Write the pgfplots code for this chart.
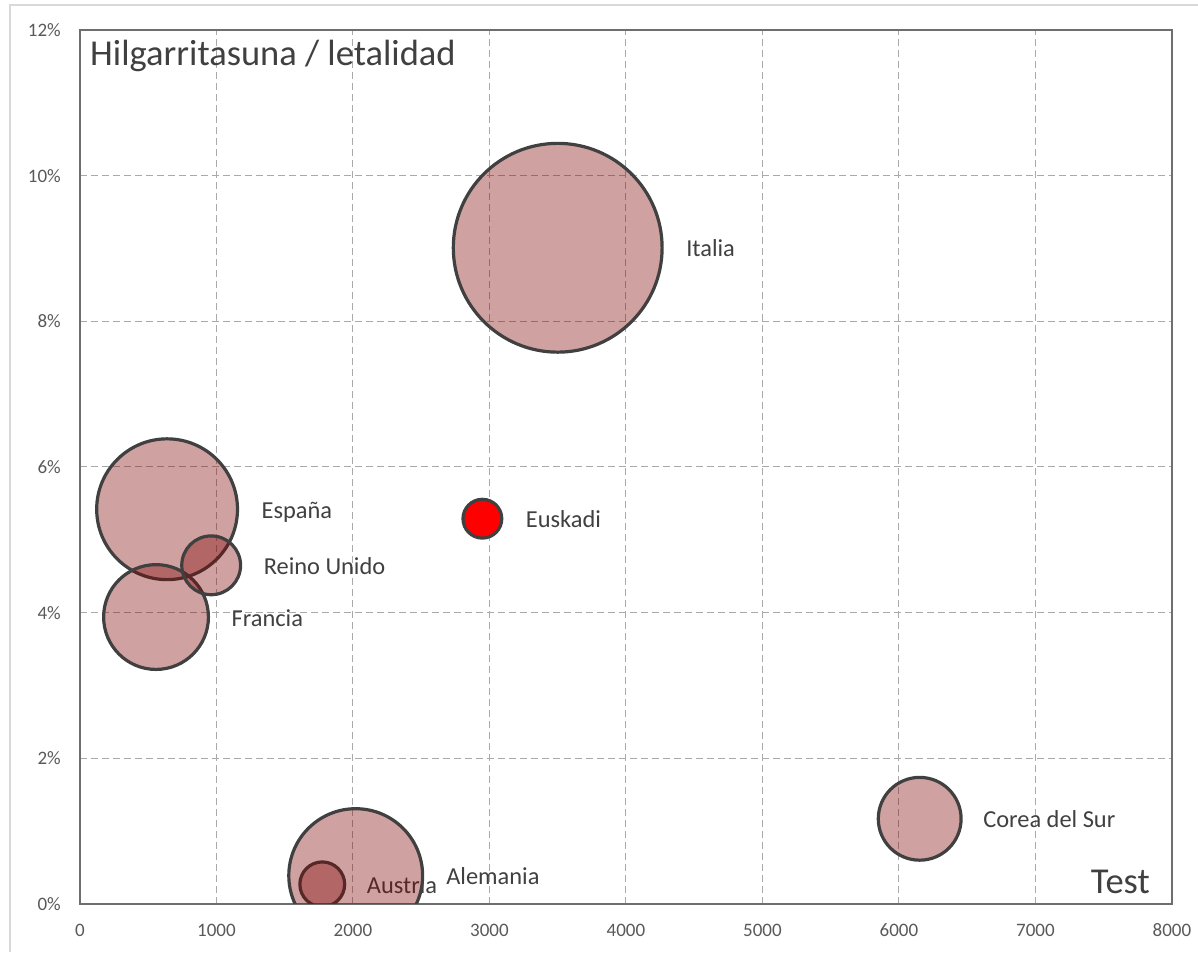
\documentclass[border=0pt]{standalone}
\usepackage{pgfplots}
\pgfplotsset{compat=1.18}
\usepackage{fontspec}
\setmainfont{Carlito}
\definecolor{bub}{RGB}{128,0,0}
\definecolor{edge}{RGB}{64,64,64}
\definecolor{axisgray}{RGB}{110,110,110}
\definecolor{tickgray}{RGB}{89,89,89}
\definecolor{gridgray}{RGB}{170,170,170}
\definecolor{framegray}{RGB}{217,217,217}
\definecolor{textgray}{RGB}{64,64,64}
\pgfplotsset{
  bubble/.style={only marks, mark=*, mark options={fill=bub, fill opacity=0.37, draw=edge, draw opacity=1, line width=3.2pt},
    nodes near coords style={anchor=base west, inner sep=0pt, text=textgray, text opacity=1, fill opacity=1, font=\fontsize{24.4}{28}\selectfont, yshift=-9pt}},
}
\begin{document}
\begin{tikzpicture}
\useasboundingbox (0,0) rectangle (1198pt,952pt);
\draw[framegray, line width=2pt] (10pt,0pt) -- (10pt,947pt) -- (1198pt,947pt);
\begin{axis}[
  at={(80pt,48pt)}, anchor=south west,
  scale only axis, width=1092pt, height=874pt,
  xmin=0, xmax=8000, ymin=0, ymax=12,
  xtick={0,1000,...,8000}, ytick={0,2,...,12},
  scaled x ticks=false, scaled y ticks=false,
  /pgf/number format/assume math mode=true,
  /pgf/number format/1000 sep={},
  yticklabel={\pgfmathprintnumber{\tick}\%},
  major tick length=0pt,
  grid=major,
  major grid style={dash pattern=on 7pt off 4pt, gridgray, line width=1pt},
  axis line style={axisgray, line width=2pt},
  ticklabel style={font=\fontsize{19}{22}\selectfont, text=tickgray},
  yticklabel style={anchor=east, inner sep=0pt, xshift=-19pt},
  xticklabel style={anchor=base, inner sep=0pt, yshift=-33pt},
  clip marker paths=true,
]
\addplot[bubble, mark size=104.4pt, nodes near coords={Italia}, nodes near coords style={xshift=127pt}] coordinates {(3500,9.01)};
\addplot[bubble, mark size=70.4pt, nodes near coords={España}, nodes near coords style={xshift=93pt}] coordinates {(638,5.42)};
\addplot[bubble, mark size=52.4pt, nodes near coords={Francia}, nodes near coords style={xshift=74pt}] coordinates {(557,3.94)};
\addplot[bubble, mark size=29.4pt, nodes near coords={Reino Unido}, nodes near coords style={xshift=51pt}] coordinates {(961,4.65)};
\addplot[bubble, mark size=22.4pt, nodes near coords={Austria}, nodes near coords style={xshift=43pt}] coordinates {(1775,0.27)};
\addplot[bubble, mark size=66.9pt, nodes near coords={Alemania}, nodes near coords style={xshift=89pt}] coordinates {(2020,0.39)};
\addplot[bubble, mark size=41.4pt, nodes near coords={Corea del Sur}, nodes near coords style={xshift=62pt}] coordinates {(6152,1.17)};
\addplot[bubble, mark options={fill=red, fill opacity=1, draw=edge, draw opacity=1, line width=3.2pt}, mark size=19.4pt, nodes near coords={Euskadi}, nodes near coords style={xshift=42pt}] coordinates {(2948,5.29)};
\node[anchor=base west, inner sep=0pt, text=textgray, font=\fontsize{36.5}{40}\selectfont] at (rel axis cs:0,1) [xshift=10pt, yshift=-36pt] {Hilgarritasuna / letalidad};
\node[anchor=base east, inner sep=0pt, text=textgray, font=\fontsize{36.5}{40}\selectfont] at (rel axis cs:1,0) [xshift=-22pt, yshift=10pt] {Test};
\end{axis}
\end{tikzpicture}
\end{document}
